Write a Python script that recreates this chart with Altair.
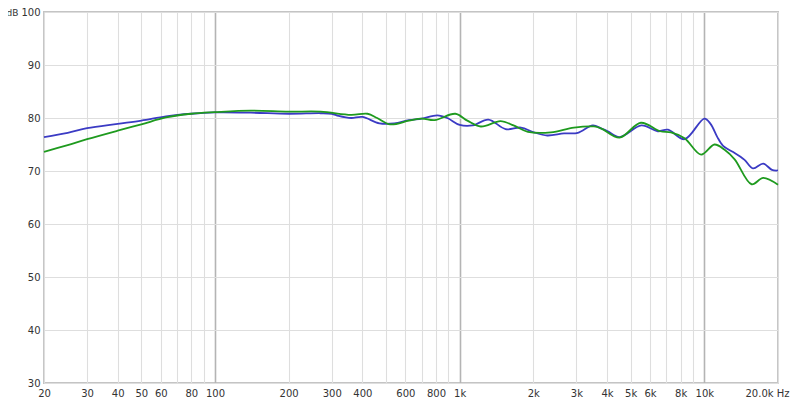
import altair as alt
import pandas as pd

# Blue trace (Hz, dB)
blue_freq = [20, 25, 30, 40, 50, 63, 80, 100, 140, 200, 270, 300, 320, 360, 400, 470, 540, 620,
             700, 810, 890, 1000, 1130, 1310, 1540, 1780, 2010, 2280, 2670, 3040, 3500, 3800,
             4030, 4500, 5530, 6450, 7100, 8300, 10000, 10600, 11300, 11900, 12500, 13300,
             14600, 15800, 17400, 18900, 20000]
blue_db = [76.4, 77.2, 78.1, 78.9, 79.5, 80.3, 80.8, 81.05, 81.0, 80.8, 80.9, 80.8, 80.4, 80.0,
           80.2, 79.0, 79.0, 79.6, 79.9, 80.5, 80.0, 78.7, 78.6, 79.7, 77.9, 78.2, 77.3, 76.7,
           77.1, 77.2, 78.6, 78.0, 77.5, 76.4, 78.6, 77.5, 77.8, 76.0, 79.9, 78.9, 76.4, 74.8,
           74.1, 73.4, 72.1, 70.5, 71.4, 70.2, 70.1]

# Green trace (Hz, dB)
green_freq = [20, 25, 30, 40, 50, 63, 80, 100, 140, 200, 270, 360, 420, 460, 520, 620, 700,
              790, 960, 1075, 1220, 1470, 1660, 1900, 2360, 2930, 3540, 3800, 4500, 5500,
              6600, 7300, 8300, 9700, 11000, 12100, 13300, 15600, 17400, 20000]
green_db = [73.6, 74.9, 76.0, 77.6, 78.8, 80.1, 80.8, 81.1, 81.4, 81.2, 81.2, 80.6, 80.8, 80.0,
            78.8, 79.5, 79.9, 79.6, 80.8, 79.5, 78.4, 79.4, 78.6, 77.4, 77.3, 78.2, 78.4, 78.0,
            76.3, 79.1, 77.5, 77.3, 76.2, 73.1, 75.0, 74.0, 72.2, 67.5, 68.7, 67.4]

series_names = ["Blue", "Green"]
series_colors = ["#3b3bc4", "#1e9a1e"]

# Axis ticks
x_ticks = [20, 30, 40, 50, 60, 70, 80, 90, 100, 200, 300, 400, 500, 600, 700, 800, 900,
           1000, 2000, 3000, 4000, 5000, 6000, 7000, 8000, 9000, 10000, 20000]
x_hidden = [70, 90, 500, 700, 900, 7000, 9000]
x_major = [100, 1000, 10000]
y_ticks = [30, 40, 50, 60, 70, 80, 90, 100]

df = pd.concat([
    pd.DataFrame({"freq": blue_freq, "db": blue_db, "series": series_names[0]}),
    pd.DataFrame({"freq": green_freq, "db": green_db, "series": series_names[1]}),
])

hidden_js = "[" + ",".join(str(v) for v in x_hidden) + "]"
major_js = "[" + ",".join(str(v) for v in x_major) + "]"
label_expr = (
    f"indexof({hidden_js}, datum.value) >= 0 ? '' : "
    "datum.value >= 20000 ? '20.0k Hz' : "
    "datum.value >= 1000 ? (datum.value / 1000) + 'k' : datum.value + ''"
)
major_test = f"indexof({major_js}, datum.value) >= 0"

chart = alt.Chart(df).mark_line(strokeWidth=1.8, interpolate="catmull-rom").encode(
    x=alt.X(
        "freq:Q",
        scale=alt.Scale(type="log", domain=[20, 20000], nice=False),
        axis=alt.Axis(
            values=x_ticks,
            title=None,
            labelExpr=label_expr,
            labelOverlap=False,
            labelFlush=False,
            labelBound=False,
            labelOffset={"condition": {"test": "datum.value >= 20000", "value": -11}, "value": 0},
            tickSize=0,
            labelPadding=5,
            domain=False,
            gridColor={"condition": {"test": major_test, "value": "#b4b4b4"}, "value": "#dedede"},
            gridWidth={"condition": {"test": major_test, "value": 1.6}, "value": 1.1},
        ),
    ),
    y=alt.Y(
        "db:Q",
        scale=alt.Scale(domain=[30, 100], nice=False, zero=False),
        axis=alt.Axis(
            values=y_ticks,
            title="dB",
            titleAngle=0,
            titleAlign="right",
            titleBaseline="alphabetic",
            titleX=-26,
            titleY=3,
            titleFontSize=9,
            titleFontWeight="normal",
            titleColor="#333333",
            tickSize=0,
            labelPadding=4,
            domain=False,
            gridColor="#dedede",
            gridWidth=1.1,
        ),
    ),
    color=alt.Color(
        "series:N",
        scale=alt.Scale(domain=series_names, range=series_colors),
        legend=None,
    ),
).properties(
    width=734,
    height=371,
    autosize=alt.AutoSizeParams(type="none"),
    padding={"left": 36, "top": 4, "right": 14, "bottom": 16},
).configure_view(
    stroke="#c4c4c4",
    strokeWidth=2,
).configure_axis(
    labelFont="DejaVu Sans",
    labelFontSize=10,
    labelColor="#333333",
    titleFont="DejaVu Sans",
)

chart.save("out.html", embed_options={"renderer": "svg", "actions": False})
